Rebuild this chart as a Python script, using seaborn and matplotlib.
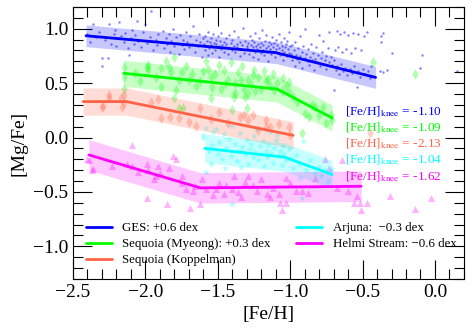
import numpy as np
import pandas as pd
import matplotlib
matplotlib.use("Agg")
import matplotlib.pyplot as plt
import seaborn as sns

# Piecewise-linear knee fits: knots ([Fe/H], [Mg/Fe]) and half-width of band
ges_fit_x = [-2.41, -1.10, -0.41]
ges_fit_y = [0.935, 0.78, 0.552]
ges_err = 0.10

myeong_fit_x = [-2.15, -1.09, -0.71]
myeong_fit_y = [0.59, 0.445, 0.18]
myeong_err = 0.12

kopp_fit_x = [-2.43, -2.13, -0.98]
kopp_fit_y = [0.33, 0.33, 0.02]
kopp_err = 0.125

arjuna_fit_x = [-1.59, -1.04, -0.71]
arjuna_fit_y = [-0.10, -0.18, -0.34]
arjuna_err = 0.13

helmi_fit_x = [-2.39, -1.62, -0.51]
helmi_fit_y = [-0.16, -0.463, -0.448]
helmi_err = 0.14

knee_vals = [-1.10, -1.09, -2.13, -1.04, -1.62]
labels = ["GES: +0.6 dex", "Sequoia (Myeong): +0.3 dex", "Sequoia (Koppelman)",
          "Arjuna:  \u22120.3 dex", "Helmi Stream: \u22120.6 dex"]
colors = ["blue", "#00ff00", "tomato", "cyan", "magenta"]

# star samples ([Fe/H], [Mg/Fe])
ges_pts = [
    (-2.40, 0.95), (-2.38, 0.88), (-2.36, 1.04), (-2.34, 0.92), (-2.32, 0.97), (-2.30, 0.73),
    (-2.30, 0.66), (-2.28, 0.90), (-2.26, 0.73), (-2.25, 1.04), (-2.24, 0.86), (-2.22, 0.95),
    (-2.21, 0.99), (-2.20, 0.84), (-2.19, 0.91), (-2.18, 1.06), (-2.17, 0.93), (-2.15, 0.88),
    (-2.14, 0.96), (-2.12, 0.82), (-2.11, 0.76), (-2.10, 0.91), (-2.09, 0.99), (-2.08, 0.86),
    (-2.07, 0.94), (-2.06, 1.07), (-2.05, 0.89), (-2.03, 0.83), (-2.02, 0.97), (-2.00, 1.04),
    (-1.99, 0.87), (-1.97, 0.92), (-1.96, 1.16), (-1.95, 0.80), (-1.93, 0.90), (-1.92, 0.85),
    (-1.91, 0.95), (-1.89, 0.88), (-1.88, 0.98), (-1.87, 0.82), (-1.86, 0.91), (-1.85, 0.86),
    (-1.84, 0.95), (-1.83, 0.79), (-1.82, 0.89), (-1.81, 1.00), (-1.80, 0.84), (-1.79, 0.92),
    (-1.78, 0.87), (-1.77, 0.77), (-1.76, 0.94), (-1.75, 0.85), (-1.74, 0.90), (-1.73, 0.81),
    (-1.72, 0.97), (-1.71, 0.88), (-1.70, 0.83), (-1.69, 0.93), (-1.68, 0.86), (-1.67, 1.02),
    (-1.66, 0.79), (-1.65, 0.90), (-1.64, 0.84), (-1.63, 0.95), (-1.62, 0.88), (-1.61, 0.74),
    (-1.60, 0.91), (-1.595, 0.86), (-1.59, 0.80), (-1.585, 0.93), (-1.58, 0.84), (-1.575, 0.89),
    (-1.57, 0.76), (-1.565, 0.97), (-1.56, 0.82), (-1.555, 0.88), (-1.55, 0.85), (-1.545, 0.91),
    (-1.54, 0.78), (-1.535, 0.95), (-1.53, 0.83), (-1.525, 0.87), (-1.52, 0.80), (-1.515, 0.90),
    (-1.51, 0.86), (-1.50, 0.93), (-1.495, 0.74), (-1.49, 0.84), (-1.485, 0.89), (-1.48, 0.81),
    (-1.475, 0.96), (-1.47, 0.85), (-1.46, 0.79), (-1.455, 0.88), (-1.45, 0.83), (-1.445, 0.91),
    (-1.44, 0.86), (-1.43, 0.77), (-1.425, 0.94), (-1.42, 0.82), (-1.41, 0.87), (-1.405, 0.80),
    (-1.40, 0.90), (-1.39, 0.84), (-1.385, 0.98), (-1.38, 0.79), (-1.37, 0.86), (-1.365, 0.83),
    (-1.36, 0.92), (-1.35, 0.75), (-1.345, 0.88), (-1.34, 0.81), (-1.33, 0.85), (-1.325, 1.01),
    (-1.32, 0.78), (-1.31, 0.89), (-1.30, 0.84), (-1.295, 0.82), (-1.29, 0.87), (-1.285, 0.77),
    (-1.28, 0.93), (-1.275, 0.80), (-1.27, 0.85), (-1.265, 0.90), (-1.26, 0.74), (-1.255, 0.83),
    (-1.25, 0.88), (-1.245, 0.79), (-1.24, 0.96), (-1.235, 0.84), (-1.23, 0.81), (-1.225, 0.86),
    (-1.22, 0.72), (-1.215, 0.91), (-1.21, 0.83), (-1.205, 0.78), (-1.20, 0.87), (-1.195, 0.99),
    (-1.19, 0.80), (-1.185, 0.85), (-1.18, 0.76), (-1.175, 0.89), (-1.17, 0.82), (-1.165, 0.94),
    (-1.16, 0.79), (-1.155, 0.84), (-1.15, 0.70), (-1.145, 0.88), (-1.14, 0.81), (-1.135, 0.86),
    (-1.13, 0.77), (-1.125, 0.92), (-1.12, 0.83), (-1.115, 0.79), (-1.11, 0.87), (-1.105, 0.74),
    (-1.10, 0.90), (-1.095, 0.81), (-1.09, 0.85), (-1.085, 0.78), (-1.08, 0.95), (-1.075, 0.82),
    (-1.07, 0.76), (-1.065, 0.88), (-1.06, 0.80), (-1.055, 0.84), (-1.05, 0.71), (-1.045, 0.91),
    (-1.04, 0.79), (-1.035, 0.83), (-1.03, 0.86), (-1.025, 0.75), (-1.02, 0.89), (-1.015, 0.81),
    (-1.01, 0.78), (-1.005, 0.97), (-1.00, 0.84), (-0.995, 0.77), (-0.99, 0.71), (-0.985, 0.85),
    (-0.98, 0.74), (-0.975, 0.80), (-0.97, 0.66), (-0.965, 0.88), (-0.96, 0.76), (-0.95, 0.72),
    (-0.945, 0.82), (-0.94, 0.69), (-0.935, 0.93), (-0.93, 0.75), (-0.92, 0.79), (-0.915, 0.64),
    (-0.91, 0.84), (-0.90, 0.73), (-0.895, 1.00), (-0.89, 0.77), (-0.88, 0.70), (-0.875, 0.81),
    (-0.87, 0.67), (-0.86, 0.74), (-0.855, 0.86), (-0.85, 0.71), (-0.84, 0.78), (-0.835, 0.62),
    (-0.83, 0.72), (-0.82, 0.83), (-0.815, 0.69), (-0.81, 0.76), (-0.80, 0.94), (-0.795, 0.66),
    (-0.79, 0.73), (-0.78, 0.79), (-0.775, 0.68), (-0.77, 0.89), (-0.76, 0.71), (-0.755, 0.75),
    (-0.75, 0.63), (-0.74, 0.82), (-0.735, 0.69), (-0.73, 0.97), (-0.72, 0.74), (-0.71, 0.67),
    (-0.70, 0.44), (-0.695, 0.71), (-0.69, 0.80), (-0.685, 0.62), (-0.68, 0.98), (-0.675, 0.66),
    (-0.67, 0.83), (-0.66, 0.58), (-0.655, 0.95), (-0.65, 0.68), (-0.64, 0.79), (-0.635, 0.61),
    (-0.63, 0.97), (-0.62, 0.64), (-0.615, 0.81), (-0.61, 0.57), (-0.60, 0.94), (-0.59, 0.63),
    (-0.58, 0.78), (-0.57, 0.59), (-0.565, 0.96), (-0.56, 0.66), (-0.55, 0.82), (-0.54, 0.46),
    (-0.535, 0.61), (-0.53, 0.95), (-0.52, 0.56), (-0.51, 0.80), (-0.50, 0.63), (-0.49, 0.93),
    (-0.48, 0.58), (-0.47, 0.97), (-0.46, 0.61), (-0.45, 0.55), (-0.44, 0.66), (-0.38, 0.61),
    (-0.36, 0.60), (-0.37, 0.88), (-0.37, 0.93), (-0.36, 0.96), (-0.30, 0.78), (-0.33, 0.62),
    (-0.09, 0.76), (-0.10, 0.64), (0.15, 0.61),
]

myeong_pts = [
    (-2.15, 0.65), (-2.15, 0.56), (-2.15, 0.45), (-2.07, 0.59), (-2.04, 0.52), (-1.99, 0.65),
    (-1.98, 0.67), (-1.98, 0.62), (-1.93, 0.56), (-1.89, 0.64), (-1.89, 0.46), (-1.86, 0.70),
    (-1.84, 0.65), (-1.82, 0.60), (-1.80, 0.74), (-1.79, 0.44), (-1.77, 0.53), (-1.75, 0.60),
    (-1.72, 0.66), (-1.70, 0.53), (-1.68, 0.58), (-1.65, 0.47), (-1.80, 0.36), (-1.77, 0.27),
    (-1.74, 0.27), (-1.62, 0.52), (-1.60, 0.61), (-1.58, 0.70), (-1.57, 0.63), (-1.55, 0.56),
    (-1.55, 0.36), (-1.54, 0.46), (-1.52, 0.58), (-1.49, 0.67), (-1.48, 0.45), (-1.46, 0.62),
    (-1.45, 0.49), (-1.43, 0.53), (-1.41, 0.69), (-1.40, 0.25), (-1.39, 0.37), (-1.38, 0.50),
    (-1.38, 0.41), (-1.36, 0.60), (-1.34, 0.53), (-1.33, 0.66), (-1.32, 0.45), (-1.31, 0.37),
    (-1.30, 0.27), (-1.29, 0.53), (-1.29, 0.41), (-1.27, 0.48), (-1.26, 0.57), (-1.25, 0.62),
    (-1.24, 0.43), (-1.22, 0.56), (-1.20, 0.45), (-1.18, 0.61), (-1.17, 0.52), (-1.15, 0.54),
    (-1.14, 0.47), (-1.12, 0.58), (-1.11, 0.44), (-1.09, 0.50), (-1.06, 0.43), (-1.05, 0.55),
    (-1.03, 0.47), (-1.01, 0.51), (-1.01, 0.42), (-0.98, 0.37), (-0.95, 0.33), (-0.92, 0.04),
    (-0.90, 0.22), (-0.87, 0.19), (-0.85, 0.30), (-0.83, 0.28), (-0.80, 0.21), (-0.77, 0.28),
    (-0.75, 0.13), (-0.72, 0.21), (-0.71, 0.16), (-0.43, 0.69), (-0.14, 0.58),
]

kopp_pts = [
    (-2.30, 0.28), (-2.29, 0.29), (-2.25, 0.36), (-2.25, 0.39), (-2.17, 0.36), (-2.16, 0.28),
    (-2.15, 0.39), (-2.15, 0.32), (-1.96, 0.33), (-1.91, 0.35), (-1.89, 0.18), (-1.83, 0.19),
    (-1.77, 0.18), (-1.70, 0.14), (-1.65, 0.11), (-1.62, 0.27), (-1.55, 0.17), (-1.49, 0.23),
    (-1.43, 0.13), (-1.35, 0.19), (-1.32, 0.21), (-1.29, 0.16), (-1.26, 0.21), (-1.22, 0.07),
    (-1.17, 0.16), (-1.17, 0.10), (-1.14, 0.10), (-1.08, 0.12), (-1.01, 0.10), (-1.00, 0.02),
    (-0.45, 0.04),
]

arjuna_pts = [
    (-1.60, 0.02), (-1.60, 0.00), (-1.58, 0.09), (-1.58, -0.32), (-1.56, -0.12), (-1.55, -0.24),
    (-1.54, -0.07), (-1.53, 0.05), (-1.51, 0.08), (-1.50, -0.15), (-1.49, -0.04), (-1.47, -0.20),
    (-1.46, 0.03), (-1.45, -0.28), (-1.44, -0.10), (-1.42, -0.01), (-1.41, -0.17), (-1.40, 0.11),
    (-1.40, -0.61), (-1.38, -0.06), (-1.37, -0.22), (-1.36, -0.12), (-1.35, 0.04), (-1.34, -0.27),
    (-1.33, -0.09), (-1.31, -0.15), (-1.30, -0.02), (-1.29, -0.24), (-1.28, -0.11), (-1.27, -0.06),
    (-1.26, -0.18), (-1.25, 0.01), (-1.24, -0.13), (-1.23, 0.08), (-1.22, -0.21), (-1.21, -0.08),
    (-1.20, -0.15), (-1.19, -0.03), (-1.18, -0.26), (-1.17, -0.12), (-1.16, -0.18), (-1.15, -0.07),
    (-1.14, 0.05), (-1.13, -0.14), (-1.12, -0.23), (-1.11, -0.10), (-1.10, -0.02), (-1.09, 0.02),
    (-1.08, -0.17), (-1.07, -0.12), (-1.06, -0.25), (-1.05, -0.08), (-1.04, -0.15), (-1.03, -0.21),
    (-1.01, -0.11), (-1.00, -0.19), (-0.98, -0.28), (-0.96, -0.16), (-0.94, -0.24), (-0.93, -0.37),
    (-0.92, -0.56), (-0.91, -0.03), (-0.89, -0.30), (-0.86, -0.21), (-0.83, -0.33), (-0.80, -0.27),
    (-0.79, -0.35), (-0.76, -0.30), (-0.74, -0.40), (-0.71, -0.29),
]

helmi_pts = [
    (-2.40, -0.20), (-2.39, -0.21), (-2.37, -0.30), (-2.36, -0.29), (-2.23, -0.26), (-2.13, -0.24),
    (-2.09, -0.07), (-2.09, -0.26), (-2.05, -0.32), (-1.99, -0.24), (-1.99, -0.56), (-1.98, -0.30),
    (-1.94, -0.38), (-1.93, -0.35), (-1.91, -0.26), (-1.90, -0.33), (-1.85, -0.61), (-1.84, -0.28),
    (-1.81, -0.17), (-1.79, -0.20), (-1.75, -0.35), (-1.75, -0.42), (-1.72, -0.47), (-1.69, -0.65),
    (-1.67, -0.49), (-1.66, -0.45), (-1.62, -0.61), (-1.61, -0.38), (-1.58, -0.47), (-1.53, -0.53),
    (-1.51, -0.47), (-1.49, -0.42), (-1.46, -0.52), (-1.44, -0.44), (-1.40, -0.47), (-1.39, -0.35),
    (-1.36, -0.50), (-1.34, -0.55), (-1.31, -0.41), (-1.29, -0.35), (-1.26, -0.44), (-1.23, -0.49),
    (-1.20, -0.38), (-1.16, -0.52), (-1.14, -0.55), (-1.12, -0.46), (-1.08, -0.52), (-1.07, -0.60),
    (-1.06, -0.67), (-1.03, -0.60), (-1.03, -0.37), (-1.00, -0.42), (-0.96, -0.49), (-0.92, -0.49),
    (-0.88, -0.51), (-0.83, -0.37), (-0.76, -0.20), (-0.73, -0.28), (-0.68, -0.46), (-0.64, -0.21),
    (-0.60, -0.49), (-0.56, -0.60), (-0.54, -0.54), (-0.52, -0.60), (-0.51, -0.67), (-0.47, -0.60),
    (-0.31, -0.54), (-0.14, -0.66), (-0.03, -0.56),
]

sns.set_style("ticks")
plt.rcParams["font.family"] = ["Liberation Serif", "DejaVu Serif"]
plt.rcParams["mathtext.fontset"] = "stix"
for key in ["text.color", "axes.labelcolor", "xtick.color", "ytick.color", "axes.edgecolor"]:
    plt.rcParams[key] = "black"

fig, ax = plt.subplots(figsize=(4.71, 3.29), dpi=100)
fig.subplots_adjust(left=0.155, right=0.985, top=0.979, bottom=0.152)

scatter_groups = [
    (ges_pts, "o", 3, 0.5),
    (myeong_pts, "d", 30, 0.3),
    (kopp_pts, "d", 30, 0.3),
    (arjuna_pts, "*", 30, 0.3),
    (helmi_pts, "^", 26, 0.3),
]
for (pts, mk, size, alpha), col in zip(scatter_groups, colors):
    df = pd.DataFrame(pts, columns=["feh", "mgfe"])
    sns.scatterplot(data=df, x="feh", y="mgfe", ax=ax, marker=mk, s=size, color=col,
                    alpha=alpha, linewidth=0, legend=False, zorder=1)

fits = [
    (ges_fit_x, ges_fit_y, ges_err),
    (myeong_fit_x, myeong_fit_y, myeong_err),
    (kopp_fit_x, kopp_fit_y, kopp_err),
    (arjuna_fit_x, arjuna_fit_y, arjuna_err),
    (helmi_fit_x, helmi_fit_y, helmi_err),
]
for (fx, fy, err), col, lab in zip(fits, colors, labels):
    fy = np.array(fy)
    ax.fill_between(fx, fy - err, fy + err, color=col, alpha=0.22, lw=0, zorder=2)
    sns.lineplot(x=fx, y=fy, ax=ax, color=col, lw=2, label=lab, sort=False,
                 estimator=None, zorder=3)

# knee annotations
for i, (kv, col) in enumerate(zip(knee_vals, colors)):
    ax.text(-0.62, 0.24 - 0.149 * i, r"[Fe/H]$_{\rm knee}$ = " + f"{kv:.2f}",
            color=col, fontsize=9.5, ha="left", va="center")

ax.set_xlim(-2.5, 0.2)
ax.set_ylim(-1.3, 1.2)
ax.set_xlabel("[Fe/H]", fontsize=14)
ax.set_ylabel("[Mg/Fe]", fontsize=14)
ax.xaxis.set_major_locator(plt.MultipleLocator(0.5))
ax.xaxis.set_minor_locator(plt.MultipleLocator(0.1))
ax.yaxis.set_major_locator(plt.MultipleLocator(0.5))
ax.yaxis.set_minor_locator(plt.MultipleLocator(0.1))
ax.tick_params(which="both", direction="in", top=True, right=True, labelsize=14, width=0.8)
ax.tick_params(which="major", length=14)
ax.tick_params(which="minor", length=7)
for sp in ax.spines.values():
    sp.set_linewidth(0.8)

ax.legend(loc="lower left", ncol=2, frameon=False, fontsize=9.3, labelspacing=0.3,
          handlelength=2.0, columnspacing=2.0, borderaxespad=0.6)

fig.savefig("out.png", dpi=100)
